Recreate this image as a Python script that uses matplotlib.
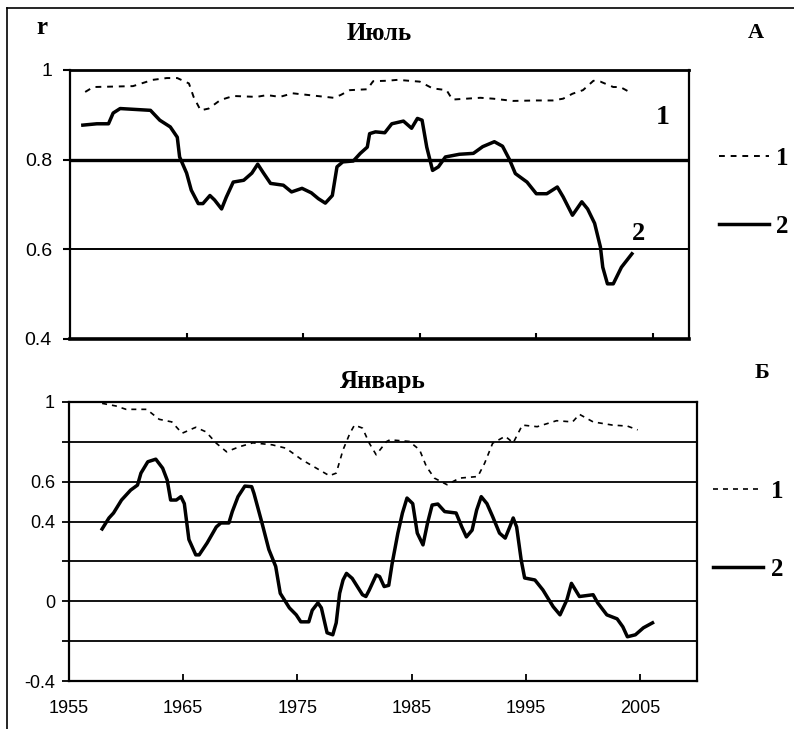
import matplotlib
matplotlib.use("Agg")
import matplotlib.pyplot as plt
from matplotlib import font_manager
from matplotlib.lines import Line2D

# July (top panel): 1 - dashed, 2 - solid
jul_years1 = [1956.3, 1957.0, 1960.4, 1962.1, 1963.3, 1964.2, 1965.2, 1965.6, 1966.2, 1966.9,
              1967.9, 1969.0, 1971.0, 1971.9, 1973.0, 1974.1, 1976.2, 1977.6, 1978.2, 1979.0,
              1980.5, 1981.0, 1982.2, 1983.1, 1985.0, 1986.1, 1987.3, 1987.8, 1990.2, 1991.3,
              1993.0, 1995.0, 1996.4, 1997.3, 1998.1, 1999.0, 1999.9, 2000.5, 2001.6, 2002.2,
              2003.2]
jul_r1 = [0.951, 0.962, 0.964, 0.978, 0.982, 0.982, 0.970, 0.940, 0.910, 0.914,
          0.933, 0.942, 0.940, 0.944, 0.940, 0.948, 0.942, 0.938, 0.944, 0.955,
          0.957, 0.975, 0.976, 0.978, 0.974, 0.959, 0.955, 0.934, 0.938, 0.936,
          0.931, 0.932, 0.932, 0.936, 0.947, 0.955, 0.976, 0.974, 0.962, 0.962,
          0.948]

jul_years2 = [1956.1, 1957.3, 1958.3, 1958.7, 1959.3, 1961.9, 1962.7, 1963.6, 1964.2, 1964.4,
              1965.0, 1965.4, 1966.0, 1966.4, 1967.0, 1967.4, 1968.0, 1968.4, 1969.0, 1969.9,
              1970.6, 1971.1, 1971.6, 1972.2, 1973.3, 1974.0, 1974.9, 1975.7, 1976.3, 1976.9,
              1977.5, 1977.9, 1978.4, 1979.3, 1979.9, 1980.5, 1980.7, 1981.2, 1982.0, 1982.6,
              1983.6, 1984.3, 1984.8, 1985.2, 1985.6, 1986.1, 1986.6, 1987.2, 1988.4, 1989.6,
              1990.4, 1991.4, 1992.1, 1992.7, 1993.2, 1994.2, 1995.0, 1995.9, 1996.8, 1997.3,
              1998.1, 1998.9, 1999.4, 2000.0, 2000.5, 2000.7, 2001.1, 2001.6, 2002.3, 2003.2]
jul_r2 = [0.877, 0.880, 0.880, 0.904, 0.914, 0.910, 0.888, 0.873, 0.850, 0.806,
          0.770, 0.732, 0.702, 0.702, 0.720, 0.710, 0.690, 0.716, 0.750, 0.754,
          0.770, 0.790, 0.770, 0.747, 0.743, 0.728, 0.736, 0.726, 0.713, 0.703,
          0.720, 0.784, 0.795, 0.797, 0.814, 0.828, 0.858, 0.862, 0.860, 0.880,
          0.886, 0.870, 0.892, 0.888, 0.828, 0.776, 0.784, 0.806, 0.812, 0.814,
          0.829, 0.840, 0.830, 0.800, 0.769, 0.750, 0.724, 0.724, 0.739, 0.717,
          0.676, 0.706, 0.690, 0.658, 0.605, 0.560, 0.523, 0.523, 0.560, 0.590]

# January (bottom panel)
jan_years1 = [1957.9, 1959.1, 1960.0, 1961.8, 1962.9, 1964.0, 1964.9, 1966.1, 1967.0, 1967.9,
              1968.8, 1969.9, 1971.1, 1972.8, 1974.0, 1975.4, 1976.9, 1977.8, 1978.4, 1979.0,
              1979.6, 1980.0, 1980.7, 1981.3, 1981.9, 1982.8, 1983.1, 1984.8, 1985.7, 1986.3,
              1987.0, 1988.1, 1989.2, 1990.8, 1991.4, 1992.1, 1993.2, 1993.9, 1994.7, 1996.0,
              1997.7, 1999.1, 1999.7, 2000.9, 2002.6, 2003.9, 2004.8]
jan_r1 = [0.993, 0.980, 0.963, 0.963, 0.913, 0.900, 0.843, 0.873, 0.850, 0.793,
          0.750, 0.775, 0.795, 0.785, 0.768, 0.710, 0.660, 0.630, 0.643, 0.760,
          0.843, 0.884, 0.869, 0.793, 0.735, 0.801, 0.810, 0.802, 0.760, 0.676,
          0.618, 0.585, 0.618, 0.626, 0.693, 0.793, 0.828, 0.795, 0.884, 0.876,
          0.906, 0.900, 0.938, 0.900, 0.884, 0.879, 0.860]

jan_years2 = [1957.9, 1958.5, 1958.9, 1959.6, 1960.4, 1961.0, 1961.3, 1961.9, 1962.6, 1963.2,
              1963.6, 1963.9, 1964.4, 1964.8, 1965.1, 1965.5, 1966.1, 1966.4, 1967.1, 1967.9,
              1968.3, 1969.0, 1969.3, 1969.8, 1970.4, 1971.0, 1971.2, 1971.9, 1972.5, 1973.1,
              1973.5, 1974.3, 1974.9, 1975.3, 1976.0, 1976.3, 1976.8, 1977.1, 1977.6, 1978.1,
              1978.4, 1978.7, 1979.0, 1979.3, 1979.8, 1980.7, 1981.0, 1981.3, 1981.9, 1982.2,
              1982.6, 1983.0, 1983.3, 1983.8, 1984.2, 1984.6, 1985.1, 1985.5, 1986.0, 1986.4,
              1986.8, 1987.3, 1987.9, 1988.9, 1989.4, 1989.8, 1990.3, 1990.7, 1991.1, 1991.6,
              1992.1, 1992.7, 1993.2, 1993.6, 1993.9, 1994.2, 1994.6, 1994.9, 1995.8, 1996.5,
              1997.4, 1998.0, 1998.6, 1999.0, 1999.7, 2000.9, 2001.3, 2002.1, 2003.0, 2003.5,
              2003.9, 2004.6, 2005.3, 2006.1]
jan_r2 = [0.363, 0.418, 0.443, 0.508, 0.558, 0.583, 0.643, 0.700, 0.713, 0.668,
          0.608, 0.508, 0.508, 0.525, 0.490, 0.310, 0.233, 0.233, 0.293, 0.373,
          0.393, 0.393, 0.450, 0.525, 0.578, 0.575, 0.541, 0.393, 0.260, 0.175,
          0.040, -0.033, -0.068, -0.103, -0.103, -0.045, -0.008, -0.033, -0.158, -0.168,
          -0.108, 0.040, 0.107, 0.140, 0.115, 0.033, 0.024, 0.057, 0.132, 0.124,
          0.074, 0.080, 0.190, 0.342, 0.443, 0.518, 0.490, 0.342, 0.283, 0.393,
          0.483, 0.488, 0.450, 0.443, 0.373, 0.323, 0.357, 0.458, 0.525, 0.490,
          0.425, 0.342, 0.317, 0.373, 0.418, 0.373, 0.207, 0.117, 0.107, 0.057,
          -0.027, -0.068, 0.007, 0.090, 0.024, 0.033, -0.008, -0.068, -0.088, -0.128,
          -0.178, -0.168, -0.133, -0.108]

top_yticks = [0.4, 0.6, 0.8, 1.0]
top_ylabels = ["0.4", "0.6", "0.8", "1"]
bot_yticks = [-0.4, -0.2, 0.0, 0.2, 0.4, 0.6, 0.8, 1.0]
bot_ylabels = ["-0.4", "", "0", "", "0.4", "0.6", "", "1"]
xticks = [1955, 1965, 1975, 1985, 1995, 2005]


def have_font(name):
    try:
        font_manager.findfont(name, fallback_to_default=False)
        return True
    except Exception:
        return False


SERIF = "Liberation Serif"
SANS = "Liberation Sans"
NARROW = "Liberation Sans Narrow" if have_font("Liberation Sans Narrow") else SANS

fig = plt.figure(figsize=(7.94, 7.29), dpi=100)

# ---- top panel (July)
ax1 = fig.add_axes([0.0882, 0.535, 0.7796, 0.369])
ax1.axhline(0.8, color="k", lw=2.4, zorder=1)
ax1.axhline(0.6, color="k", lw=1.4, zorder=1)
d1, = ax1.plot(jul_years1, jul_r1, color="k", lw=1.4, dashes=(3, 3))
s1, = ax1.plot(jul_years2, jul_r2, color="k", lw=2.5)
ax1.set_xlim(1955, 2008.1)
ax1.set_ylim(0.4, 1.0)
ax1.set_xticks(xticks[1:])
ax1.set_xticklabels([])
ax1.set_yticks(top_yticks)
ax1.set_yticklabels(top_ylabels, fontfamily=NARROW, fontsize=14)
ax1.tick_params(axis="x", direction="in", length=4, width=1.5)
ax1.tick_params(axis="y", direction="out", length=5, width=1.5, pad=8)
for side, w in [("top", 2.0), ("bottom", 2.6), ("left", 1.6), ("right", 1.6)]:
    ax1.spines[side].set_linewidth(w)

ax1.text(0.5, 1.137, "Июль", transform=ax1.transAxes, ha="center", va="center",
         fontfamily=SERIF, fontweight="bold", fontsize=18)
ax1.text(2005.8, 0.895, "1", fontfamily=SERIF, fontweight="bold", fontsize=20,
         ha="center", va="center")
ax1.text(2003.8, 0.635, "2", fontfamily=SERIF, fontweight="bold", fontsize=19,
         ha="center", va="center")

# ---- bottom panel (January)
ax2 = fig.add_axes([0.0869, 0.0658, 0.791, 0.3828])
d2, = ax2.plot(jan_years1, jan_r1, color="k", lw=1.2, dashes=(3, 3))
s2, = ax2.plot(jan_years2, jan_r2, color="k", lw=2.5)
ax2.set_xlim(1955, 2010)
ax2.set_ylim(-0.4, 1.0)
ax2.set_xticks(xticks)
ax2.set_xticklabels([str(t) for t in xticks], fontfamily=SANS, fontsize=13)
ax2.set_yticks(bot_yticks)
ax2.set_yticklabels(bot_ylabels, fontfamily=SANS, fontsize=13)
ax2.grid(axis="y", color="k", lw=1.3)
ax2.set_axisbelow(True)
ax2.tick_params(axis="x", direction="in", length=5, width=1.3, pad=14)
ax2.tick_params(axis="y", direction="out", length=5, width=1.3, pad=5)
for side in ["top", "bottom", "left", "right"]:
    ax2.spines[side].set_linewidth(1.6)

ax2.text(0.5, 1.072, "Январь", transform=ax2.transAxes, ha="center", va="center",
         fontfamily=SERIF, fontweight="bold", fontsize=18)

# ---- panel letters and axis label
fig.text(0.053, 0.962, "r", fontfamily=SERIF, fontweight="bold", fontsize=18,
         ha="center", va="center")
fig.text(0.952, 0.955, "А", fontfamily=SERIF, fontweight="bold", fontsize=16,
         ha="center", va="center")
fig.text(0.960, 0.489, "Б", fontfamily=SERIF, fontweight="bold", fontsize=16,
         ha="center", va="center")

# ---- legends
leg_font = {"family": SERIF, "weight": "bold", "size": 18}
fig.legend([d1, s1], ["1", "2"], loc="center left", bbox_to_anchor=(0.905, 0.736),
           frameon=False, prop=leg_font, handlelength=2.0, handletextpad=0.3,
           labelspacing=1.8, borderaxespad=0, borderpad=0)
fig.legend([d2, s2], ["1", "2"], loc="center left", bbox_to_anchor=(0.898, 0.272),
           frameon=False, prop=leg_font, handlelength=2.0, handletextpad=0.3,
           labelspacing=2.2, borderaxespad=0, borderpad=0)

# outer frame (left and top edges only)
fig.add_artist(Line2D([0.009, 0.009], [0.0, 0.989], color="k", lw=1.2, transform=fig.transFigure))
fig.add_artist(Line2D([0.009, 1.0], [0.989, 0.989], color="k", lw=1.2, transform=fig.transFigure))

fig.savefig("out.png", dpi=100)
